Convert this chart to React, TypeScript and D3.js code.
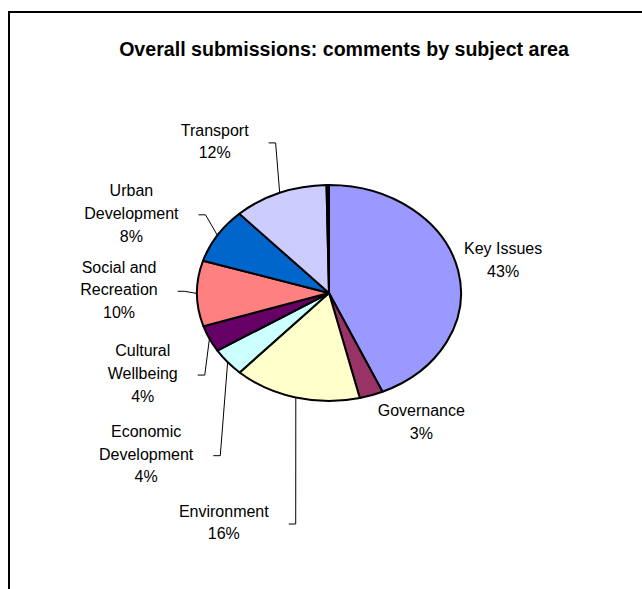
import React from "react";
import * as d3 from "d3";

const categories = [
  "Key Issues",
  "Governance",
  "Environment",
  "Economic Development",
  "Cultural Wellbeing",
  "Social and Recreation",
  "Urban Development",
  "Transport",
  "Other",
];
const values = [43.4, 2.9, 15.6, 4.2, 4.0, 9.8, 8.3, 11.6, 0.3];
const labelLines = [
  ["Key Issues"],
  ["Governance"],
  ["Environment"],
  ["Economic", "Development"],
  ["Cultural", "Wellbeing"],
  ["Social and", "Recreation"],
  ["Urban", "Development"],
  ["Transport"],
  [],
];
const sliceColors = [
  "#9999FF",
  "#993366",
  "#FFFFCC",
  "#CCFFFF",
  "#660066",
  "#FF8080",
  "#0066CC",
  "#CCCCFF",
  "#000000",
];
// label block offsets (centre x, middle y) from the slice's rim mid-point; leader flag
const labelLayout = [
  { dx: 45, dy: -10.5, leader: false },
  { dx: 50, dy: 26.5, leader: false },
  { dx: -72, dy: 125, leader: true },
  { dx: -81.5, dy: 92, leader: true },
  { dx: -66.7, dy: 34.8, leader: true },
  { dx: -78, dy: -3.7, leader: true },
  { dx: -86, dy: -22, leader: true },
  { dx: -65, dy: -51.4, leader: true },
  null,
];

const W = 642;
const H = 589;
const CX = 329;
const CY = 293;
const RX = 132;
const RY = 108;
const FONT = "'Liberation Sans', Arial, sans-serif";
const LABEL_SIZE = 16;
const LINE_H = 22.7;

let ctx: CanvasRenderingContext2D | null = null;
function measure(t: string): number {
  if (!ctx) ctx = document.createElement("canvas").getContext("2d");
  if (!ctx) return t.length * 8;
  ctx.font = `${LABEL_SIZE}px ${FONT}`;
  return ctx.measureText(t).width;
}

export default function App() {
  const total = d3.sum(values);
  const pie = d3
    .pie<number>()
    .sort(null)
    .value((d) => d)
    .startAngle(0)
    .endAngle(2 * Math.PI);
  const arcs = pie(values);
  const arc = d3.arc<d3.PieArcDatum<number>>().innerRadius(0).outerRadius(RY);
  const sx = RX / RY;

  const rim = (a: number) => [CX + RX * Math.sin(a), CY - RY * Math.cos(a)];

  return (
    <svg
      width={W}
      height={H}
      style={{ position: "absolute", left: 0, top: 0, display: "block", background: "#fff" }}
    >
      <rect x={0} y={0} width={W} height={H} fill="#fff" />
      <rect x={9} y={12} width={800} height={800} fill="none" stroke="#000" strokeWidth={2} />
      <text
        x={344}
        y={56}
        textAnchor="middle"
        fontFamily={FONT}
        fontWeight="bold"
        fontSize={19.6}
        fill="#000"
      >
        Overall submissions: comments by subject area
      </text>
      <g transform={`translate(${CX},${CY}) scale(${sx},1)`}>
        {arcs.map((a, i) => (
          <path
            key={categories[i]}
            d={arc(a) || ""}
            fill={sliceColors[i]}
            stroke="#000"
            strokeWidth={2}
            strokeLinejoin="round"
            vectorEffect="non-scaling-stroke"
          />
        ))}
      </g>
      {arcs.map((a, i) => {
        const lay = labelLayout[i];
        if (!lay) return null;
        const mid = (a.startAngle + a.endAngle) / 2;
        const [ax, ay] = rim(mid);
        const bx = ax + lay.dx;
        const by = ay + lay.dy;
        const lines = [...labelLines[i], `${Math.round((values[i] / total) * 100)}%`];
        const n = lines.length;
        const bw = d3.max(lines, (l) => measure(l)) || 0;
        let leader = null;
        if (lay.leader) {
          const ex = bx + bw / 2 + 20;
          const ey = by + 1.5;
          leader = (
            <polyline
              points={`${ex},${ey} ${ex + 7},${ey} ${ax},${ay}`}
              fill="none"
              stroke="#000"
              strokeWidth={1}
            />
          );
        }
        return (
          <g key={`lab-${i}`}>
            {leader}
            {lines.map((l, j) => (
              <text
                key={j}
                x={bx}
                y={by + (j - (n - 1) / 2) * LINE_H}
                textAnchor="middle"
                dominantBaseline="central"
                fontFamily={FONT}
                fontSize={LABEL_SIZE}
                fill="#000"
              >
                {l}
              </text>
            ))}
          </g>
        );
      })}
    </svg>
  );
}
